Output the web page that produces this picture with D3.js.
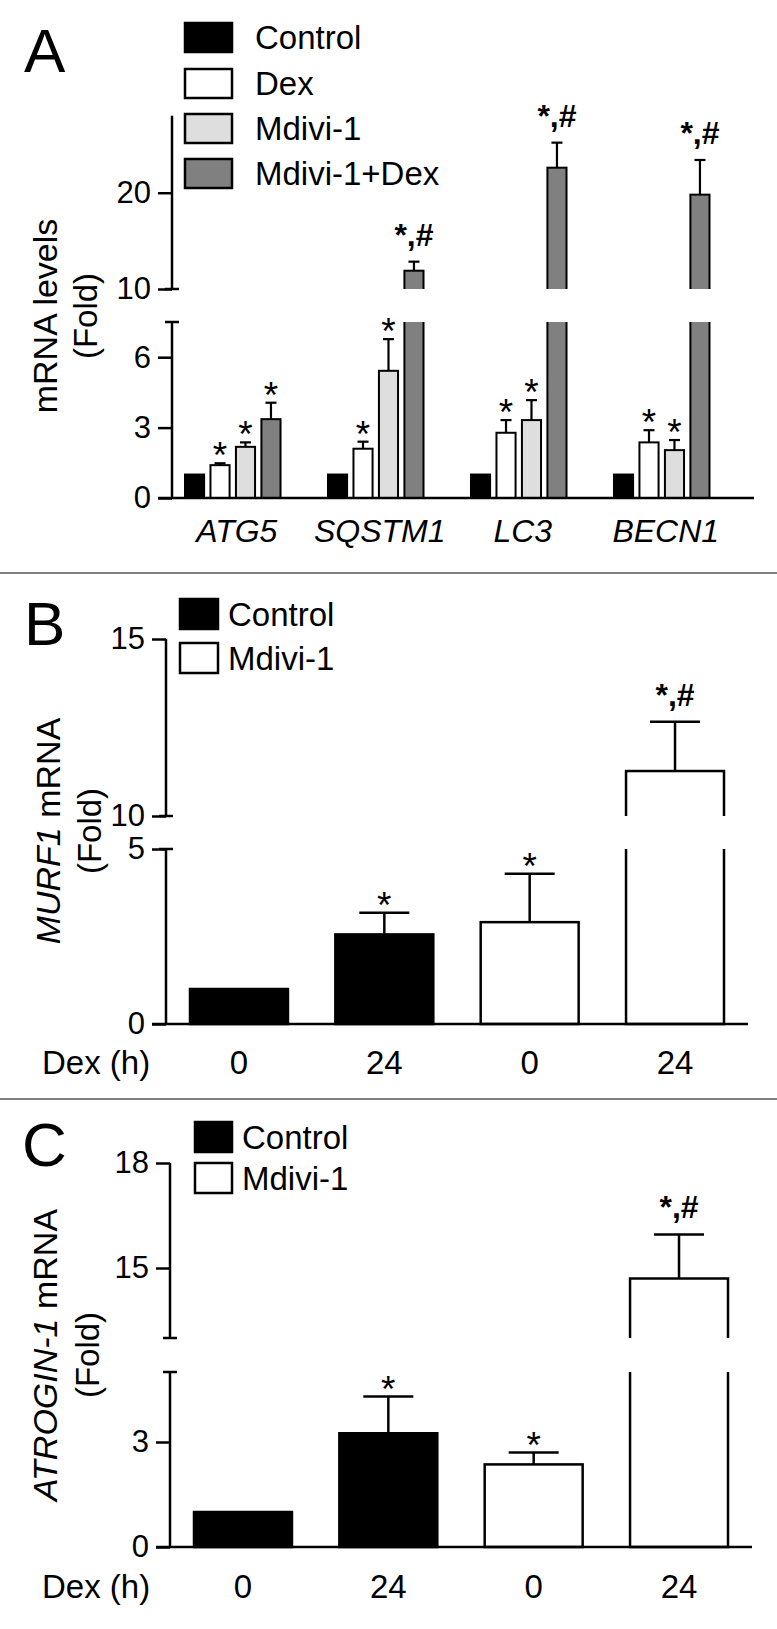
<!DOCTYPE html>
<html><head><meta charset="utf-8">
<script src="https://cdn.jsdelivr.net/npm/d3@7"></script>
<style>
body{margin:0;background:#fff}
text{font-family:"Liberation Sans",Arial,Helvetica,sans-serif;fill:#000}
</style>
</head><body>
<svg id="chart" width="777" height="1629"></svg>
<script>
// ---------------- DATA ----------------
// Panel A
const genesA = ["ATG5", "SQSTM1", "LC3", "BECN1"];
const seriesA = ["Control", "Dex", "Mdivi-1", "Mdivi-1+Dex"];
const controlA = [1, 1, 1, 1];
const dexA = [1.4, 2.1, 2.78, 2.37];
const mdiviA = [2.18, 5.42, 3.32, 2.04];
const mdiviDexA = [3.36, 11.9, 22.6, 19.8];
const controlErrA = [0, 0, 0, 0];
const dexErrA = [0.08, 0.3, 0.54, 0.52];
const mdiviErrA = [0.19, 1.35, 0.85, 0.43];
const mdiviDexErrA = [0.7, 0.94, 2.6, 3.6];
const controlSigA = ["", "", "", ""];
const dexSigA = ["*", "*", "*", "*"];
const mdiviSigA = ["*", "*", "*", "*"];
const mdiviDexSigA = ["*", "*,#", "*,#", "*,#"];
const ticksALow = [0, 3, 6];
const ticksAHigh = [10, 20];
const domainALow = [0, 7.5];
const domainAHigh = [10, 28];

// Panel B
const legendBC = ["Control", "Mdivi-1"];
const dexHours = ["0", "24", "0", "24"];
const groupBC = ["Control", "Control", "Mdivi-1", "Mdivi-1"];
const murf1 = [1, 2.56, 2.91, 11.27];
const murf1Err = [0, 0.62, 1.38, 1.39];
const murf1Sig = ["", "*", "*", "*,#"];
const ticksBLow = [0, 5];
const ticksBHigh = [10, 15];
const domainBLow = [0, 5];
const domainBHigh = [10, 15];

// Panel C
const atrogin1 = [1, 3.25, 2.36, 14.7];
const atrogin1Err = [0, 1.05, 0.34, 1.26];
const atrogin1Sig = ["", "*", "*", "*,#"];
const ticksCLow = [0, 3];
const ticksCHigh = [15, 18];
const domainCLow = [0, 5];
const domainCHigh = [13, 18];

// ---------------- DRAWING ----------------
const svg = d3.select("#chart");
const W = 777;
const colorsA = {"Control": "#000000", "Dex": "#ffffff", "Mdivi-1": "#dedede", "Mdivi-1+Dex": "#808080"};
const colorsBC = {"Control": "#000000", "Mdivi-1": "#ffffff"};
let clipCount = 0;

function drawPanel(cfg) {
  const g = svg.append("g");
  const segs = cfg.segments.map(s => ({
    ...s,
    y: d3.scaleLinear().domain(s.domain).range(s.range)
  }));
  const segFor = v => segs.find(s => v >= s.domain[0] && v <= s.domain[1]) || segs[segs.length - 1];

  // bars (clipped per segment)
  segs.forEach((s, k) => {
    const id = "clip" + (clipCount++);
    const top = k === 0 ? s.range[1] : -100;
    const bottom = k === 0 ? cfg.baseY + 20 : s.range[0];
    g.append("clipPath").attr("id", id).append("rect")
      .attr("x", 0).attr("width", W).attr("y", top).attr("height", bottom - top);
    const bg = g.append("g").attr("clip-path", `url(#${id})`);
    bg.selectAll("rect.bar").data(cfg.bars).join("rect")
      .attr("class", "bar")
      .attr("x", d => d.x)
      .attr("width", d => d.w)
      .attr("y", d => s.y(d.value))
      .attr("height", d => Math.max(0, s.y(0) - s.y(d.value)))
      .attr("fill", d => d.fill)
      .attr("stroke", "#000")
      .attr("stroke-width", cfg.barStroke);
  });

  // error bars + annotations
  cfg.bars.forEach(d => {
    if (!d.err) return;
    const s = segFor(d.value);
    const cx = d.x + d.w / 2;
    const y0 = s.y(d.value), y1 = s.y(d.value + d.err);
    g.append("line").attr("x1", cx).attr("x2", cx).attr("y1", y0).attr("y2", y1)
      .attr("stroke", "#000").attr("stroke-width", cfg.errStroke);
    g.append("line").attr("x1", cx - cfg.capW / 2).attr("x2", cx + cfg.capW / 2).attr("y1", y1).attr("y2", y1)
      .attr("stroke", "#000").attr("stroke-width", cfg.errStroke);
    if (d.sig === "*") {
      g.append("text").attr("x", cx).attr("y", y1 + 5).attr("text-anchor", "middle")
        .attr("font-size", 37).text("*");
    } else if (d.sig) {
      g.append("text").attr("x", cx).attr("y", y1 - 16).attr("text-anchor", "middle")
        .attr("font-size", 32).attr("font-weight", "bold").text(d.sig);
    }
  });

  // y axis segments
  segs.forEach((s, k) => {
    const ax = g.append("g").attr("transform", `translate(${cfg.axisX},0)`);
    const axis = d3.axisLeft(s.y).tickValues(s.ticks).tickFormat(d3.format("d"))
      .tickSize(14).tickPadding(7).tickSizeOuter(0);
    ax.call(axis);
    ax.select(".domain").attr("stroke", "#000").attr("stroke-width", cfg.axisStroke)
      .attr("d", `M0,${k === 0 ? cfg.baseY : s.range[0]}V${s.range[1]}`);
    ax.selectAll(".tick line").attr("stroke", "#000").attr("stroke-width", cfg.axisStroke);
    ax.selectAll(".tick text").attr("font-size", cfg.tickFont)
      .attr("font-family", '"Liberation Sans",Arial,sans-serif').attr("fill", "#000");
    if (s.capTop) {
      ax.append("line").attr("x1", -7).attr("x2", 7).attr("y1", s.range[1]).attr("y2", s.range[1])
        .attr("stroke", "#000").attr("stroke-width", cfg.axisStroke);
    }
    if (s.capBottom) {
      ax.append("line").attr("x1", -7).attr("x2", 7).attr("y1", s.range[0]).attr("y2", s.range[0])
        .attr("stroke", "#000").attr("stroke-width", cfg.axisStroke);
    }
  });

  // x axis line
  g.append("line").attr("x1", cfg.axisX - 14).attr("x2", cfg.xAxisRight)
    .attr("y1", cfg.baseY).attr("y2", cfg.baseY)
    .attr("stroke", "#000").attr("stroke-width", cfg.axisStroke);
  return g;
}

function legend(items, colors, x, tops, w, h, textX, fs) {
  items.forEach((name, i) => {
    svg.append("rect").attr("x", x).attr("y", tops[i]).attr("width", w).attr("height", h)
      .attr("fill", colors[name]).attr("stroke", "#000").attr("stroke-width", 2.5);
    svg.append("text").attr("x", textX).attr("y", tops[i] + h / 2).attr("dy", "0.36em")
      .attr("font-size", fs).text(name);
  });
}

function yLabel(x1, x2, cy, parts) {
  const t = svg.append("text").attr("transform", `translate(${x1},${cy}) rotate(-90)`)
    .attr("text-anchor", "middle").attr("font-size", 34);
  parts.forEach(p => t.append("tspan").attr("font-style", p.italic ? "italic" : "normal").text(p.t));
  svg.append("text").attr("transform", `translate(${x2},${cy}) rotate(-90)`)
    .attr("text-anchor", "middle").attr("font-size", 33).text("(Fold)");
}

function panelLetter(t, x, y) {
  svg.append("text").attr("x", x).attr("y", y).attr("font-size", 62).text(t);
}

// ---------- Panel A ----------
{
  const xOuter = d3.scaleBand().domain(genesA).range([185, 709.5]).paddingInner(0.332).paddingOuter(0);
  const xInner = d3.scaleBand().domain(seriesA).range([0, xOuter.bandwidth()]).paddingInner(0.25);
  const vals = {"Control": controlA, "Dex": dexA, "Mdivi-1": mdiviA, "Mdivi-1+Dex": mdiviDexA};
  const errs = {"Control": controlErrA, "Dex": dexErrA, "Mdivi-1": mdiviErrA, "Mdivi-1+Dex": mdiviDexErrA};
  const sigs = {"Control": controlSigA, "Dex": dexSigA, "Mdivi-1": mdiviSigA, "Mdivi-1+Dex": mdiviDexSigA};
  const bars = [];
  genesA.forEach((gname, gi) => seriesA.forEach(sname => bars.push({
    x: xOuter(gname) + xInner(sname), w: xInner.bandwidth(),
    value: vals[sname][gi], err: errs[sname][gi], sig: sigs[sname][gi], fill: colorsA[sname]
  })));
  drawPanel({
    axisX: 172, baseY: 498, xAxisRight: 754, barStroke: 2, errStroke: 2.2, capW: 11,
    axisStroke: 2.5, tickFont: 31, bars,
    segments: [
      {domain: domainALow, range: [498, 322], ticks: ticksALow, capTop: true},
      {domain: domainAHigh, range: [289, 115.7], ticks: ticksAHigh, capBottom: true}
    ]
  });
  svg.selectAll(null).data(genesA).join("text")
    .attr("x", d => xOuter(d) + xOuter.bandwidth() / 2 + 4).attr("y", 542)
    .attr("text-anchor", "middle").attr("font-size", 32).attr("font-style", "italic").text(d => d);
  legend(seriesA, colorsA, 185, [23, 69, 114, 159], 47, 29, 255, 33);
  yLabel(57, 97, 316, [{t: "mRNA levels"}]);
  panelLetter("A", 24, 72);
}

// separators
svg.append("line").attr("x1", 0).attr("x2", W).attr("y1", 573).attr("y2", 573)
  .attr("stroke", "#808080").attr("stroke-width", 2.2);
svg.append("line").attr("x1", 0).attr("x2", W).attr("y1", 1099).attr("y2", 1099)
  .attr("stroke", "#808080").attr("stroke-width", 2.2);

function panelBC(o) {
  const idx = d3.range(o.values.length);
  const x = d3.scaleBand().domain(idx).range(o.xr).paddingInner(0.326).paddingOuter(0);
  const bars = idx.map(i => ({
    x: x(i), w: x.bandwidth(), value: o.values[i], err: o.errs[i], sig: o.sigs[i],
    fill: colorsBC[groupBC[i]]
  }));
  drawPanel({
    axisX: o.axisX, baseY: o.baseY, xAxisRight: o.xRight, barStroke: 2.5, errStroke: 2.5, capW: 50,
    axisStroke: 2.5, tickFont: 31, bars, segments: o.segments
  });
  svg.selectAll(null).data(idx).join("text")
    .attr("x", i => x(i) + x.bandwidth() / 2).attr("y", o.labelY)
    .attr("text-anchor", "middle").attr("font-size", 33).text(i => dexHours[i]);
  svg.append("text").attr("x", 42).attr("y", o.labelY).attr("font-size", 33).text("Dex (h)");
}

// ---------- Panel B ----------
panelBC({
  values: murf1, errs: murf1Err, sigs: murf1Sig, xr: [190, 724], axisX: 166, baseY: 1024, xRight: 748,
  labelY: 1074,
  segments: [
    {domain: domainBLow, range: [1024, 849], ticks: ticksBLow, capTop: true},
    {domain: domainBHigh, range: [816, 639], ticks: ticksBHigh, capBottom: true}
  ]
});
legend(legendBC, colorsBC, 180, [599, 643], 38, 30, 228, 33);
yLabel(60, 101, 831, [{t: "MURF1", italic: true}, {t: " mRNA"}]);
panelLetter("B", 24, 645);

// ---------- Panel C ----------
panelBC({
  values: atrogin1, errs: atrogin1Err, sigs: atrogin1Sig, xr: [194, 728], axisX: 170, baseY: 1547, xRight: 752,
  labelY: 1598,
  segments: [
    {domain: domainCLow, range: [1547, 1372], ticks: ticksCLow, capTop: true},
    {domain: domainCHigh, range: [1338, 1163], ticks: ticksCHigh, capBottom: true}
  ]
});
legend(legendBC, colorsBC, 195, [1122, 1163], 37, 30, 242, 33);
yLabel(57, 99, 1355, [{t: "ATROGIN-1", italic: true}, {t: " mRNA"}]);
panelLetter("C", 22, 1166);
</script>
</body></html>
